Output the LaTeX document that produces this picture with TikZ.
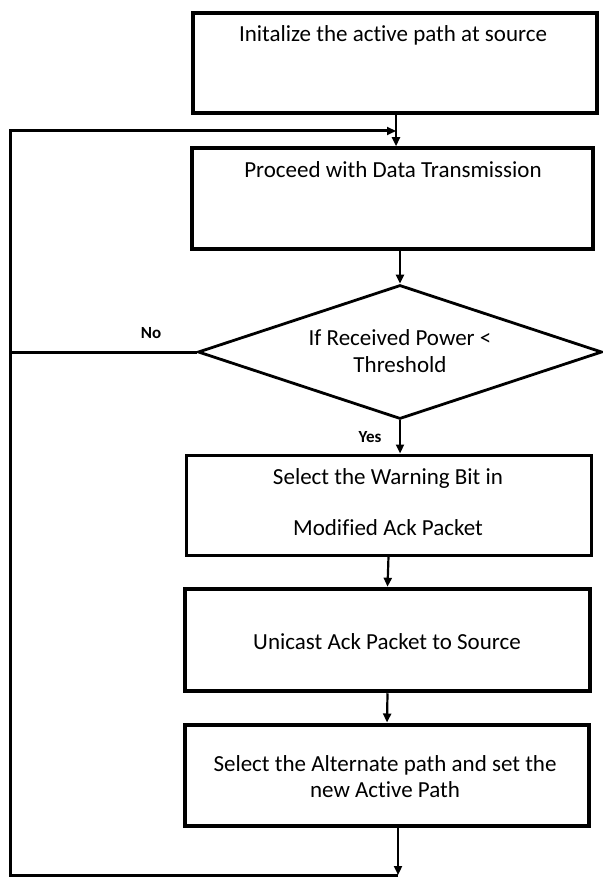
\documentclass[tikz,border=0pt]{standalone}
\usepackage{fontspec}
\setmainfont[Ligatures=NoCommon]{Carlito}
\usetikzlibrary{shapes.geometric,arrows.meta}
\begin{document}
\begin{tikzpicture}[x=1pt,y=-1pt,
  box/.style={draw,rectangle,inner sep=0pt,line width=#1},
  box/.default=3pt,
  txt/.style={inner sep=0pt,align=center,font=\fontsize{23}{26}\selectfont},
  lbl/.style={inner sep=0pt,font=\fontsize{17}{18}\selectfont\bfseries},
  conn/.style={line width=2.2pt,-{Triangle[length=9pt,width=8pt]}},
  loop/.style={line width=3pt}]
\useasboundingbox (0,0) rectangle (602,877);
% boxes
\node[box=4.5pt,minimum width=404pt,minimum height=100pt] (b1) at (395,63) {};
\node[txt] (t1) at (393,35) {Initalize the active path at source};
\node[box=3.5pt,minimum width=401pt,minimum height=101pt] (b2) at (392.5,198.5) {};
\node[txt] (t2) at (393,170) {Proceed with Data Transmission};
\node[draw,diamond,line width=2.8pt,inner sep=0pt,minimum width=404pt,minimum height=134pt] (d) at (400,352) {};
\node[txt,font=\fontsize{23}{27}\selectfont] (td) at (400,351) {If Received Power <\\Threshold};
\node[box=3pt,minimum width=405pt,minimum height=100pt] (b3) at (388.5,505) {};
\node[txt,font=\fontsize{23}{51}\selectfont] (t3) at (388,502) {Select the Warning Bit in\\Modified Ack Packet};
\node[box=4.5pt,minimum width=405pt,minimum height=102pt] (b4) at (387.5,640) {};
\node[txt] (t4) at (387,642) {Unicast Ack Packet to Source};
\node[box=4pt,minimum width=404pt,minimum height=101pt] (b5) at (387,775) {};
\node[txt] (t5) at (385,777) {Select the Alternate path and set the\\new Active Path};
% coordinates
\coordinate (j1) at (396,131);
\coordinate (bl) at (10,875);
\coordinate (br) at (398,875);
\coordinate (tl) at (10,131);
\coordinate (nl) at (10,352);
% labels
\node[lbl] (no) at (151,333) {No};
\node[lbl] (yes) at (370,437) {Yes};
% connectors
\draw[conn] (b1.south -| j1) -- (b2.north -| j1);
\draw[conn] (b2.south -| d.north) -- (d.north);
\draw[conn] (d.south) -- (b3.north -| d.south);
\draw[conn] (b3.south) -- (b4.north);
\draw[conn] (b4.south) -- (b5.north);
\draw[conn] (b5.south -| br) -- (br);
\draw[loop] (br) -- (bl) -- (tl) -- ([xshift=-6pt]j1);
\draw[line width=2.2pt,-{Triangle[length=9pt,width=8pt]}] (tl) -- (j1);
\draw[loop] (d.west) -- (nl);
\end{tikzpicture}
\end{document}
